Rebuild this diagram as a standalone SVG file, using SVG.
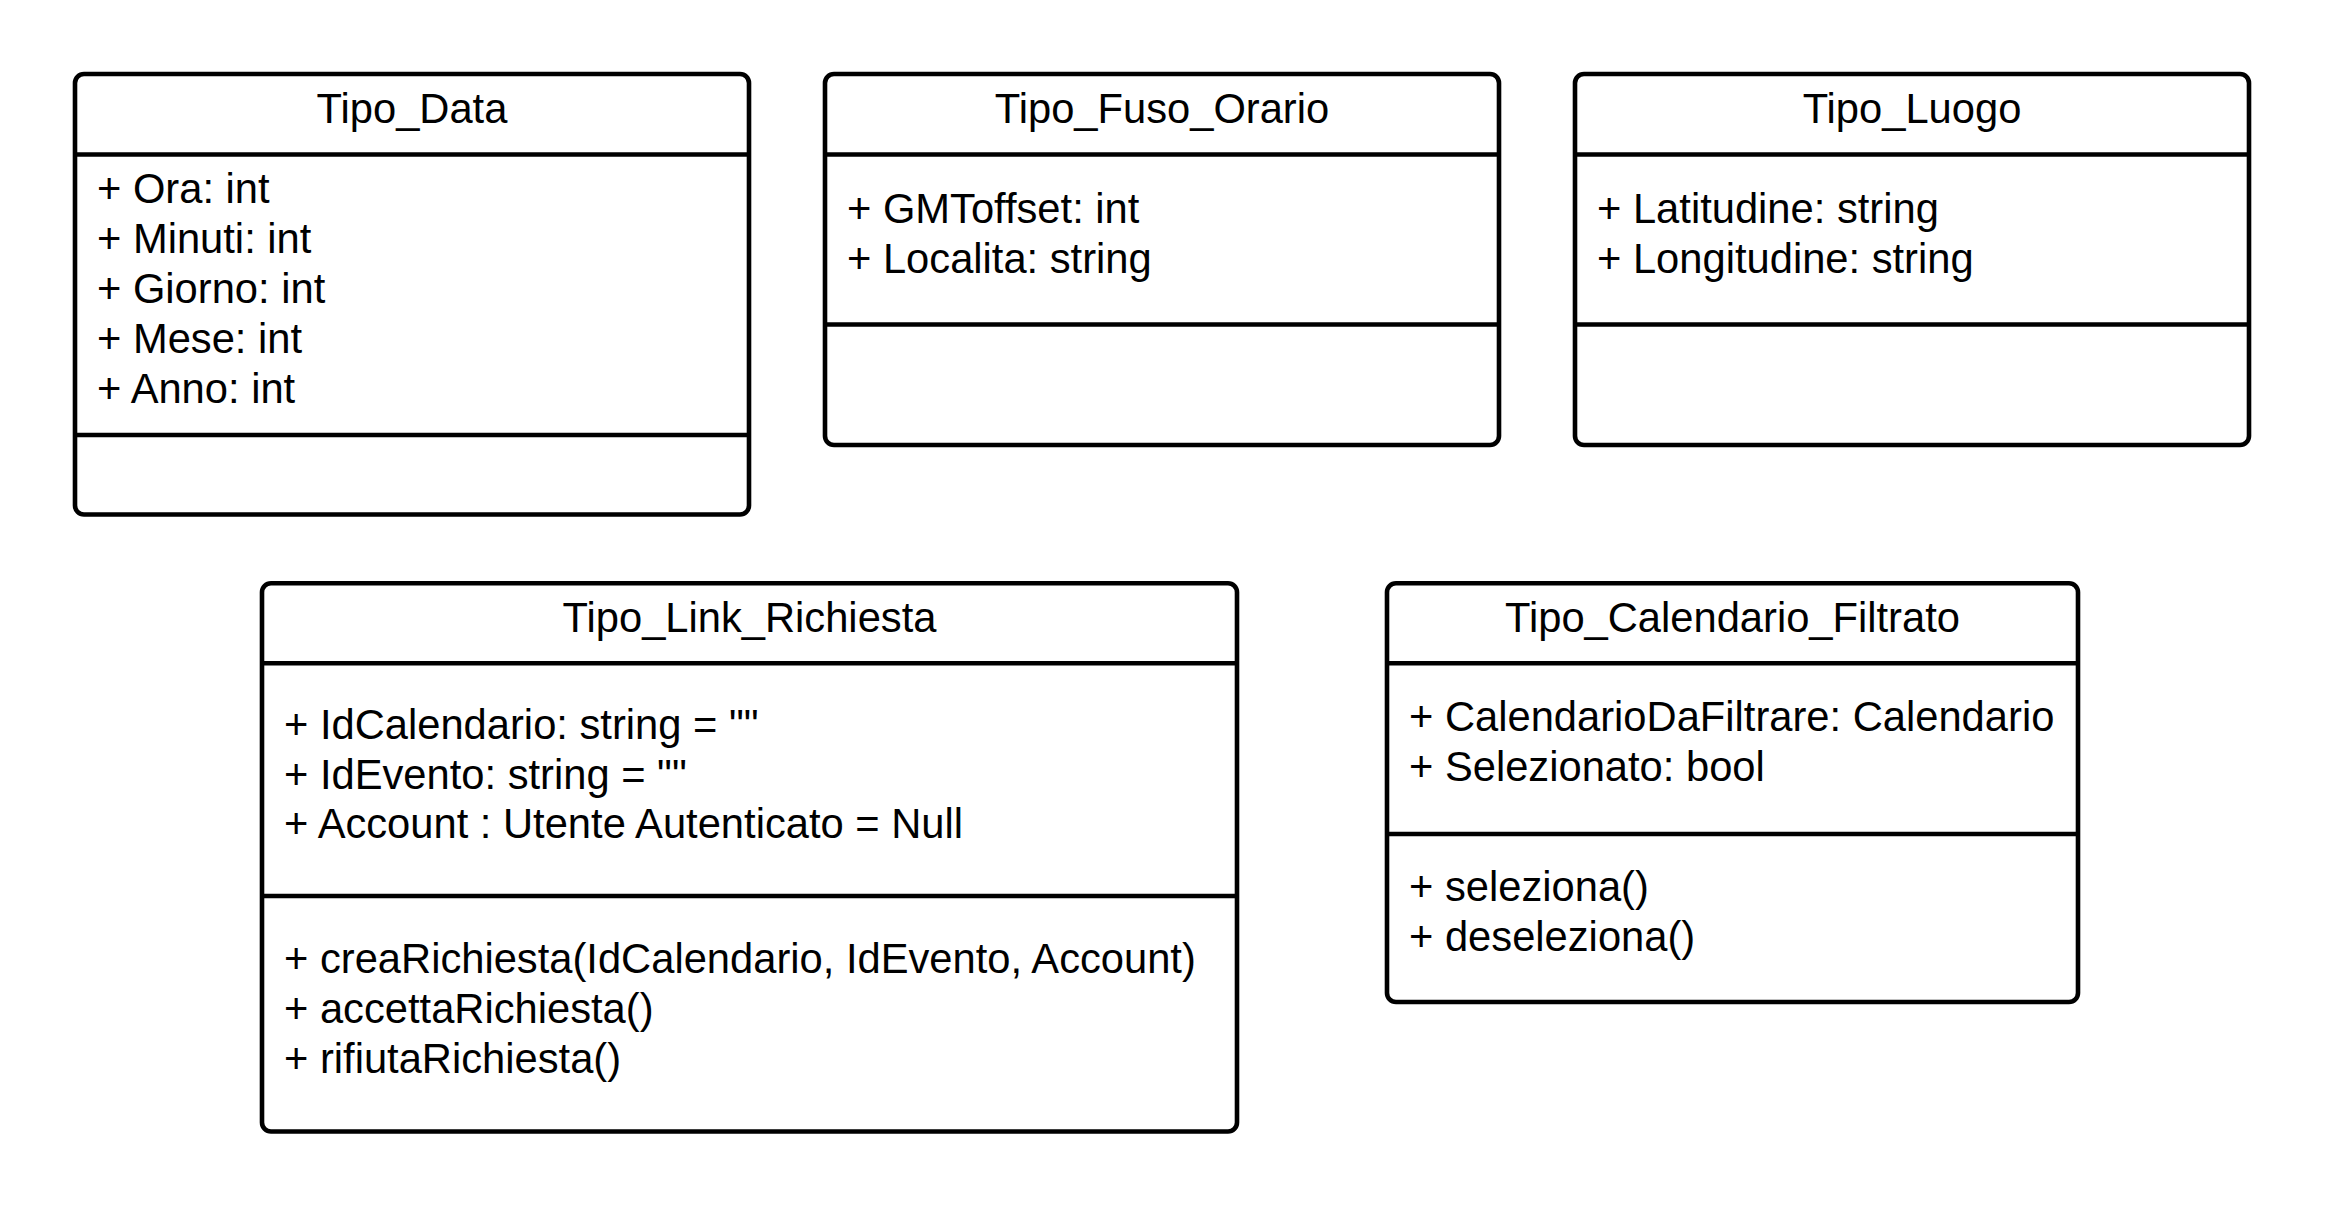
<svg xmlns="http://www.w3.org/2000/svg" width="2325" height="1206" viewBox="0 0 2325 1206">
<style>
.box{fill:#ffffff;stroke:#000000;stroke-width:4.6}
.sep{stroke:#000000;stroke-width:4.6;fill:none}
text{font-family:"Liberation Sans",Arial,sans-serif;font-size:41.7px;fill:#000000}
.t{text-anchor:middle}
</style>
<rect x="0" y="0" width="2325" height="1206" fill="#ffffff"/>
<g id="connectors"/>
<g id="Tipo_Data">
<rect class="box" x="75" y="74" width="674" height="440.5" rx="9"/>
<line class="sep" x1="75" y1="154.5" x2="749" y2="154.5"/>
<line class="sep" x1="75" y1="435" x2="749" y2="435"/>
<text class="t" x="412" y="123">Tipo_Data</text>
<text x="97" y="203">+ Ora: int</text>
<text x="97" y="253">+ Minuti: int</text>
<text x="97" y="303">+ Giorno: int</text>
<text x="97" y="353">+ Mese: int</text>
<text x="97" y="403">+ Anno: int</text>
</g>
<g id="Tipo_Fuso_Orario">
<rect class="box" x="825" y="74" width="674" height="371" rx="9"/>
<line class="sep" x1="825" y1="154.5" x2="1499" y2="154.5"/>
<line class="sep" x1="825" y1="324.5" x2="1499" y2="324.5"/>
<text class="t" x="1162" y="123">Tipo_Fuso_Orario</text>
<text x="847" y="222.5">+ GMToffset: int</text>
<text x="847" y="272.5">+ Localita: string</text>
</g>
<g id="Tipo_Luogo">
<rect class="box" x="1575" y="74" width="674" height="371" rx="9"/>
<line class="sep" x1="1575" y1="154.5" x2="2249" y2="154.5"/>
<line class="sep" x1="1575" y1="324.5" x2="2249" y2="324.5"/>
<text class="t" x="1912" y="123">Tipo_Luogo</text>
<text x="1597" y="222.5">+ Latitudine: string</text>
<text x="1597" y="272.5">+ Longitudine: string</text>
</g>
<g id="Tipo_Link_Richiesta">
<rect class="box" x="262" y="583.3" width="975" height="548.2" rx="9"/>
<line class="sep" x1="262" y1="663.3" x2="1237" y2="663.3"/>
<line class="sep" x1="262" y1="896" x2="1237" y2="896"/>
<text class="t" x="749.5" y="632">Tipo_Link_Richiesta</text>
<text x="284" y="738.5">+ IdCalendario: string = ""</text>
<text x="284" y="788.5">+ IdEvento: string = ""</text>
<text x="284" y="838">+ Account : Utente Autenticato = Null</text>
<text x="284" y="972.5">+ creaRichiesta(IdCalendario, IdEvento, Account)</text>
<text x="284" y="1022.5">+ accettaRichiesta()</text>
<text x="284" y="1072.5">+ rifiutaRichiesta()</text>
</g>
<g id="Tipo_Calendario_Filtrato">
<rect class="box" x="1387" y="583.3" width="691" height="418.7" rx="9"/>
<line class="sep" x1="1387" y1="663.3" x2="2078" y2="663.3"/>
<line class="sep" x1="1387" y1="834" x2="2078" y2="834"/>
<text class="t" x="1732.5" y="632">Tipo_Calendario_Filtrato</text>
<text x="1409" y="731">+ CalendarioDaFiltrare: Calendario</text>
<text x="1409" y="781">+ Selezionato: bool</text>
<text x="1409" y="901">+ seleziona()</text>
<text x="1409" y="951">+ deseleziona()</text>
</g>
</svg>
